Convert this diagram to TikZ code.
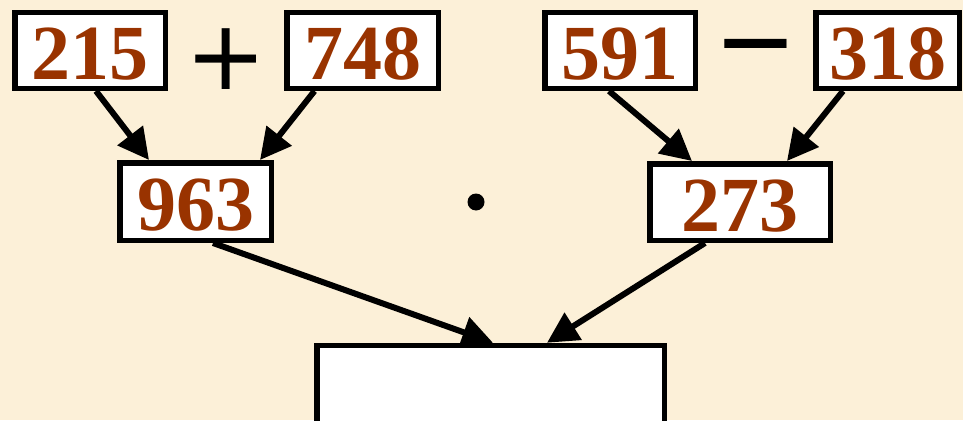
\documentclass[tikz,border=0pt]{standalone}
\usepackage{fontspec}
\setmainfont{Liberation Serif}
\newfontfamily\symfont{Liberation Sans}
\newfontfamily\plusfont{DejaVu Sans}
\usetikzlibrary{arrows.meta}
\definecolor{bgc}{RGB}{252,240,216}
\definecolor{numc}{RGB}{153,51,0}
\begin{document}
\begin{tikzpicture}[x=1pt,y=-1pt,
  numbox/.style={draw=black, fill=white, line width=5.5pt, inner sep=0pt,
    minimum height=75.5pt, text=numc,
    font=\fontsize{78}{78}\selectfont\bfseries, text height=58pt, text depth=0pt},
  conn/.style={draw=black, line width=6pt, -{Triangle[length=31pt,width=31pt]}},
  opsign/.style={inner sep=2pt, anchor=base, text height=0.75em, text depth=0.1em}]
\clip (0,0) rectangle (963,420);
\fill[bgc] (0,0) rectangle (963,420);
% top row
\node[numbox, minimum width=150.5pt] (a) at (90,50.5) {215};
\node[numbox, minimum width=151.5pt] (b) at (362.5,50.5) {748};
\node[numbox, minimum width=150.5pt] (c) at (620,50.5) {591};
\node[numbox, minimum width=143.5pt] (d) at (887.5,50.5) {318};
\node[opsign, font=\plusfont\fontsize{97}{97}\selectfont] (plus) at (226.5,89) {+};
\node[opsign, font=\symfont\fontsize{128}{128}\selectfont] (minus) at (755.5,86) {−};
% middle row
\node[numbox, minimum width=151.5pt, minimum height=77.5pt] (e) at (195.5,201.5) {963};
\node[numbox, minimum width=180.5pt, minimum height=76.5pt] (f) at (740,202) {273};
\node[circle, fill=black, inner sep=0pt, minimum size=17pt] (dot) at (476,202) {};
% bottom box
\node[draw=black, fill=white, line width=5.5pt, inner sep=0pt,
  minimum width=347.5pt, minimum height=80pt] (g) at (490.5,385.5) {};
% connectors
\draw[conn] ([xshift=6pt]a.south) -- ([xshift=-46.5pt]e.north);
\draw[conn] ([xshift=-48pt]b.south) -- ([xshift=64.5pt]e.north);
\draw[conn] ([xshift=-11pt]c.south) -- ([xshift=-48pt]f.north);
\draw[conn] ([xshift=-44.5pt]d.south) -- ([xshift=47pt]f.north);
\draw[conn] ([xshift=17.5pt]e.south) -- ([xshift=2.5pt]g.north);
\draw[conn] ([xshift=-35pt]f.south) -- ([xshift=56.5pt]g.north);
\end{tikzpicture}
\end{document}
